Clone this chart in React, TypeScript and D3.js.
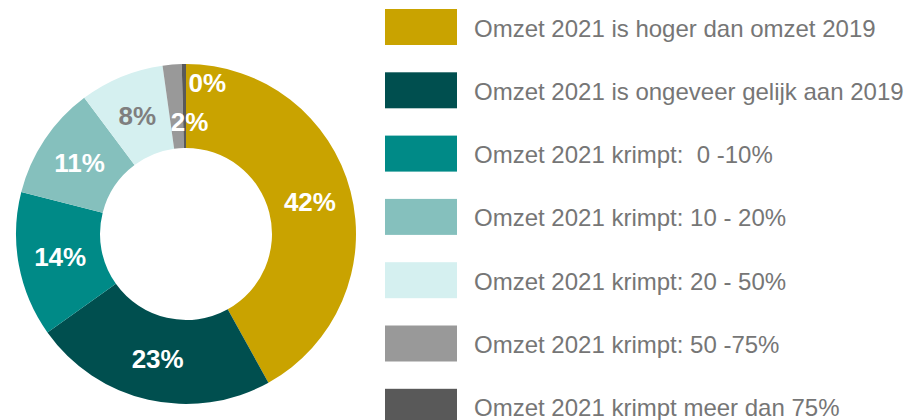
import React from 'react';
import * as d3 from 'd3';

const W = 906, H = 420;
const CX = 186, CY = 234;
const R_OUT = 170, R_IN = 86, R_LABEL = 128;

const categories = [
  'Omzet 2021 is hoger dan omzet 2019',
  'Omzet 2021 is ongeveer gelijk aan 2019',
  'Omzet 2021 krimpt:  0 -10%',
  'Omzet 2021 krimpt: 10 - 20%',
  'Omzet 2021 krimpt: 20 - 50%',
  'Omzet 2021 krimpt: 50 -75%',
  'Omzet 2021 krimpt meer dan 75%',
];
const values = [41.9, 23.2, 13.8, 10.8, 8.0, 1.8, 0.4];
const colors = ['#C9A300', '#004F4F', '#008A87', '#85C0BD', '#D5F0F0', '#999999', '#595959'];
const labelColors = ['#fff', '#fff', '#fff', '#fff', '#7F7F7F', '#fff', '#fff'];
// manual nudges for the two small slices (label moved off the slice)
const labelNudge: [number, number][] = [[0, 0], [0, 0], [0, 0], [0, 0], [0, 0], [14, 16], [23, -23]];

export default function App() {
  const pie = d3.pie<number>().sort(null).value(d => d);
  const arcs = pie(values);
  const arc = d3.arc<d3.PieArcDatum<number>>().innerRadius(R_IN).outerRadius(R_OUT);
  const labelArc = d3.arc<d3.PieArcDatum<number>>().innerRadius(R_LABEL).outerRadius(R_LABEL);

  const legendY = d3.scaleLinear().domain([0, 1]).range([9, 72.3]);

  return (
    <svg width={W} height={H} style={{ position: 'absolute', left: 0, top: 0, background: '#fff' }}
      fontFamily="'Liberation Sans', Arial, sans-serif">
      <g transform={`translate(${CX},${CY})`}>
        {arcs.map((a, i) => (
          <path key={i} d={arc(a) || ''} fill={colors[i]} />
        ))}
        {arcs.map((a, i) => {
          const [x, y] = labelArc.centroid(a);
          return (
            <text key={'l' + i} x={x + labelNudge[i][0]} y={y + labelNudge[i][1]}
              textAnchor="middle" dominantBaseline="central"
              fontSize={26} fontWeight="bold" fill={labelColors[i]}>
              {Math.round(values[i])}%
            </text>
          );
        })}
      </g>
      <g>
        {categories.map((c, i) => (
          <g key={c} transform={`translate(385,${legendY(i)})`}>
            <rect width={72} height={36} fill={colors[i]} />
            <text x={89} y={19} dominantBaseline="central" fontSize={24} fill="#767676"
              style={{ whiteSpace: 'pre' }}>{c}</text>
          </g>
        ))}
      </g>
    </svg>
  );
}
